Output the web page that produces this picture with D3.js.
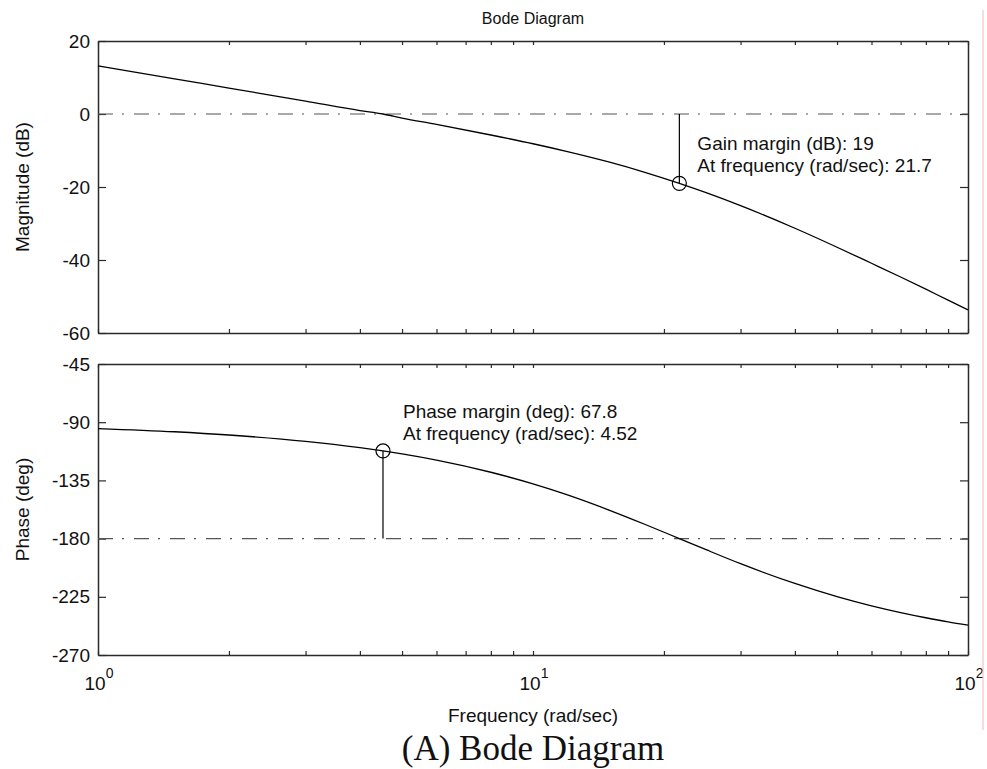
<!DOCTYPE html>
<html>
<head>
<meta charset="utf-8">
<script src="https://cdn.jsdelivr.net/npm/d3@7"></script>
<style>
  html, body { margin: 0; padding: 0; background: #fff; }
  svg { display: block; }
  text { font-family: "Liberation Sans", Arial, Helvetica, sans-serif; fill: #111; }
</style>
</head>
<body>
<svg id="chart" width="987" height="769"></svg>
<script>
// Open-loop frequency response samples (rad/sec, dB, degrees)
const freq     = [1, 1.5, 2, 3, 4, 4.52, 5, 6, 8, 10, 12, 15, 18, 21.7, 25, 30, 40, 50, 60, 70, 80, 90, 100];
const magDb    = [13.2, 9.65, 7.1, 3.55, 0.95, 0, -1.1, -2.85, -5.75, -8.15, -10.3, -13.2, -15.9, -19, -21.55, -25.1, -31.3, -36.5, -40.9, -44.65, -48.0, -51.0, -53.65];
const phaseDeg = [-94.9, -97.4, -99.9, -104.8, -109.7, -112.2, -114.5, -119.3, -128.7, -137.7, -146.2, -158.1, -168.7, -180, -188.6, -199.4, -214.7, -224.9, -232.0, -237.2, -241.2, -244.4, -246.9];

// Stability margins
const gainMarginDb = 19;
const gainCrossFreq = 21.7;
const phaseMarginDeg = 67.8;
const phaseCrossFreq = 4.52;

// Axis ticks
const magTicks = [20, 0, -20, -40, -60];
const phaseTicks = [-45, -90, -135, -180, -225, -270];
const decadeTicks = [1, 10, 100];
const decadeExp = ["0", "1", "2"];
const freqTicks = [1, 2, 3, 4, 5, 6, 7, 8, 9, 10, 20, 30, 40, 50, 60, 70, 80, 90, 100];

const svg = d3.select("#chart");
svg.append("rect").attr("width", 987).attr("height", 769).attr("fill", "#fff");

const left = 98, right = 968;
const magTop = 41, magBottom = 333;
const phTop = 364, phBottom = 655;

const x = d3.scaleLog().domain([1, 100]).range([left, right]);
const yMag = d3.scaleLinear().domain([-60, 20]).range([magBottom, magTop]);
const yPh = d3.scaleLinear().domain([-270, -45]).range([phBottom, phTop]);

const axisColor = "#2a2a2a";

function drawPanel(y, yTicks, top, bottom) {
  const g = svg.append("g");
  // ticks along top and bottom edges, pointing inward
  g.append("g").attr("transform", `translate(0,${bottom})`)
    .call(d3.axisBottom(x).tickValues(freqTicks).tickSizeInner(-4).tickSizeOuter(0).tickFormat(""));
  g.append("g").attr("transform", `translate(0,${top})`)
    .call(d3.axisTop(x).tickValues(freqTicks).tickSizeInner(-4).tickSizeOuter(0).tickFormat(""));
  // left axis with labels, right axis ticks only
  g.append("g").attr("transform", `translate(${left},0)`)
    .call(d3.axisLeft(y).tickValues(yTicks).tickSizeInner(-8).tickSizeOuter(0).tickPadding(8).tickFormat(d => String(d)));
  g.append("g").attr("transform", `translate(${right},0)`)
    .call(d3.axisRight(y).tickValues(yTicks).tickSizeInner(-8).tickSizeOuter(0).tickFormat(""));
  g.selectAll(".domain").attr("stroke", axisColor).attr("stroke-width", 1.5);
  g.selectAll(".tick line").attr("stroke", axisColor).attr("stroke-width", 1.2);
  g.selectAll(".tick text").attr("font-size", 19).attr("fill", "#111")
    .attr("font-family", "'Liberation Sans', Arial, sans-serif");
  return g;
}

drawPanel(yMag, magTicks, magTop, magBottom);
drawPanel(yPh, phaseTicks, phTop, phBottom);

// Reference lines: 0 dB and -180 deg
const dashStyle = "15,9,2,10";
svg.append("line")
  .attr("x1", left).attr("x2", right).attr("y1", yMag(0)).attr("y2", yMag(0))
  .attr("stroke", "#555").attr("stroke-width", 1.2).attr("stroke-dasharray", dashStyle);
svg.append("line")
  .attr("x1", left).attr("x2", right).attr("y1", yPh(-180)).attr("y2", yPh(-180))
  .attr("stroke", "#555").attr("stroke-width", 1.2).attr("stroke-dasharray", dashStyle);

// Response curves
const magLine = d3.line().x((d, i) => x(freq[i])).y(d => yMag(d)).curve(d3.curveMonotoneX);
const phLine = d3.line().x((d, i) => x(freq[i])).y(d => yPh(d)).curve(d3.curveMonotoneX);
svg.append("path").attr("d", magLine(magDb)).attr("fill", "none").attr("stroke", "#000").attr("stroke-width", 1.3);
svg.append("path").attr("d", phLine(phaseDeg)).attr("fill", "none").attr("stroke", "#000").attr("stroke-width", 1.3);

// Gain margin marker
const gx = x(gainCrossFreq);
svg.append("line").attr("x1", gx).attr("x2", gx).attr("y1", yMag(0)).attr("y2", yMag(-gainMarginDb))
  .attr("stroke", "#000").attr("stroke-width", 1.2);
svg.append("circle").attr("cx", gx).attr("cy", yMag(-gainMarginDb)).attr("r", 7)
  .attr("fill", "none").attr("stroke", "#000").attr("stroke-width", 1.2);
svg.append("text").attr("x", gx + 18).attr("y", 150).attr("font-size", 19)
  .text(`Gain margin (dB): ${gainMarginDb}`);
svg.append("text").attr("x", gx + 18).attr("y", 172).attr("font-size", 19)
  .text(`At frequency (rad/sec): ${gainCrossFreq}`);

// Phase margin marker
const px = x(phaseCrossFreq);
const pyDeg = -180 + phaseMarginDeg;
svg.append("line").attr("x1", px).attr("x2", px).attr("y1", yPh(pyDeg)).attr("y2", yPh(-180))
  .attr("stroke", "#000").attr("stroke-width", 1.2);
svg.append("circle").attr("cx", px).attr("cy", yPh(pyDeg)).attr("r", 7)
  .attr("fill", "none").attr("stroke", "#000").attr("stroke-width", 1.2);
svg.append("text").attr("x", px + 20).attr("y", 418).attr("font-size", 19)
  .text(`Phase margin (deg): ${phaseMarginDeg}`);
svg.append("text").attr("x", px + 20).attr("y", 440).attr("font-size", 19)
  .text(`At frequency (rad/sec): ${phaseCrossFreq}`);

// Decade labels 10^n under the phase panel
const dec = svg.append("g").selectAll("text").data(decadeTicks).join("text")
  .attr("x", d => x(d) + 1).attr("y", 690).attr("text-anchor", "middle").attr("font-size", 19);
dec.append("tspan").text("10");
dec.append("tspan").attr("dy", -12).attr("font-size", 14).text((d, i) => decadeExp[i]);

// Titles and axis labels
svg.append("text").attr("x", (left + right) / 2).attr("y", 24).attr("text-anchor", "middle")
  .attr("font-size", 16).text("Bode Diagram");
svg.append("text").attr("transform", `translate(29,${(magTop + magBottom) / 2}) rotate(-90)`)
  .attr("text-anchor", "middle").attr("font-size", 19).text("Magnitude (dB)");
svg.append("text").attr("transform", `translate(29,${(phTop + phBottom) / 2}) rotate(-90)`)
  .attr("text-anchor", "middle").attr("font-size", 19).text("Phase (deg)");
svg.append("text").attr("x", (left + right) / 2).attr("y", 722).attr("text-anchor", "middle")
  .attr("font-size", 19).text("Frequency (rad/sec)");
svg.append("text").attr("x", (left + right) / 2).attr("y", 760).attr("text-anchor", "middle")
  .attr("font-size", 35)
  .style("font-family", "'Liberation Serif', 'Times New Roman', serif")
  .text("(A) Bode Diagram");

// Thin rule along the right edge
svg.append("line").attr("x1", 983).attr("x2", 983).attr("y1", 10).attr("y2", 730)
  .attr("stroke", "#f3b7bf").attr("stroke-width", 1);
</script>
</body>
</html>
